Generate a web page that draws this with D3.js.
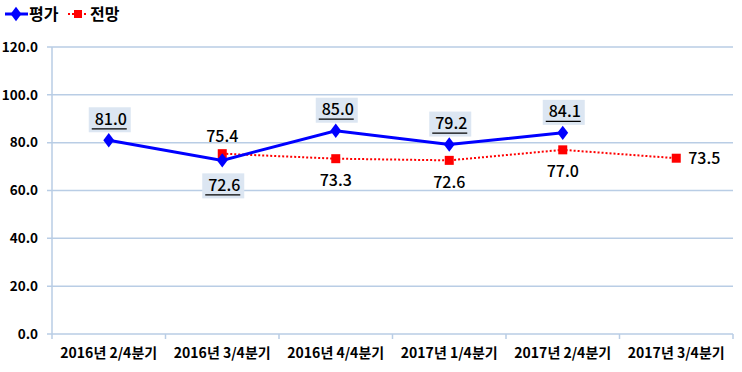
<!DOCTYPE html>
<html>
<head>
    <meta charset="utf-8">
    <script src="https://d3js.org/d3.v7.min.js"></script>
    <style>
        body, html { margin: 0; background: #fff; overflow: hidden; }
        text { font-family: "Noto Sans CJK KR", "Noto Sans", sans-serif; }
    </style>
</head>
<body>
<div id="chart"></div>
<script>
    const categories = ["2016년 2/4분기", "2016년 3/4분기", "2016년 4/4분기", "2017년 1/4분기", "2017년 2/4분기", "2017년 3/4분기"];
    const evalValues = [81.0, 72.6, 85.0, 79.2, 84.1, null];      // 평가
    const outlookValues = [null, 75.4, 73.3, 72.6, 77.0, 73.5];   // 전망
    const evalLabelPos = ["above", "below", "above", "above", "above", null];
    const outlookLabelPos = [null, "above", "below", "below", "below", "right"];
    const yTicks = [0, 20, 40, 60, 80, 100, 120];

    const width = 742, height = 372;
    const margin = {left: 52, right: 9, top: 47, bottom: 38};
    const gridColor = "#b9cde5";

    const svg = d3.select("#chart").append("svg")
        .attr("width", width).attr("height", height);

    const x = d3.scaleBand().domain(categories)
        .range([margin.left, width - margin.right]);
    const y = d3.scaleLinear().domain([0, 120])
        .range([height - margin.bottom, margin.top]);

    // gridlines
    svg.append("g").selectAll("line").data(yTicks).join("line")
        .attr("x1", margin.left - 5).attr("x2", width - margin.right)
        .attr("y1", d => y(d)).attr("y2", d => y(d))
        .attr("stroke", gridColor).attr("stroke-width", 1.5);

    // y axis line
    svg.append("line")
        .attr("x1", margin.left).attr("x2", margin.left)
        .attr("y1", y(120)).attr("y2", y(0))
        .attr("stroke", gridColor).attr("stroke-width", 1.5);

    // y labels
    svg.append("g").selectAll("text").data(yTicks).join("text")
        .attr("x", 38).attr("y", d => y(d))
        .attr("text-anchor", "end").attr("dy", "0.35em")
        .attr("font-size", 13.5).attr("font-weight", "bold")
        .text(d => d.toFixed(1));

    // x tick marks at band edges
    const edges = categories.map(c => x(c)).concat([x.range()[1]]);
    svg.append("g").selectAll("line").data(edges).join("line")
        .attr("x1", d => d).attr("x2", d => d)
        .attr("y1", y(0)).attr("y2", y(0) + 5)
        .attr("stroke", gridColor).attr("stroke-width", 1.5);

    // x labels
    svg.append("g").selectAll("text").data(categories).join("text")
        .attr("x", d => x(d) + x.bandwidth() / 2)
        .attr("y", y(0) + 24)
        .attr("text-anchor", "middle")
        .attr("font-size", 14).attr("font-weight", "bold")
        .text(d => d);

    const cx = i => x(categories[i]) + x.bandwidth() / 2;

    // 전망 series (red dotted)
    const outlookPts = outlookValues.map((v, i) => ({i, v})).filter(d => d.v != null);
    svg.append("path").datum(outlookPts)
        .attr("fill", "none").attr("stroke", "#ff0000")
        .attr("stroke-width", 2).attr("stroke-dasharray", "2,2")
        .attr("d", d3.line().x(d => cx(d.i)).y(d => y(d.v)));
    svg.append("g").selectAll("rect").data(outlookPts).join("rect")
        .attr("x", d => cx(d.i) - 4.5).attr("y", d => y(d.v) - 4.5)
        .attr("width", 9).attr("height", 9).attr("fill", "#ff0000");

    // 평가 series (blue)
    const evalPts = evalValues.map((v, i) => ({i, v})).filter(d => d.v != null);
    svg.append("path").datum(evalPts)
        .attr("fill", "none").attr("stroke", "#0000ff")
        .attr("stroke-width", 3)
        .attr("d", d3.line().x(d => cx(d.i)).y(d => y(d.v)));
    const diamond = d3.symbol().type(d3.symbolDiamond).size(60);
    svg.append("g").selectAll("path").data(evalPts).join("path")
        .attr("transform", d => `translate(${cx(d.i)},${y(d.v)}) scale(1.3,1)`)
        .attr("d", diamond).attr("fill", "#0000ff");

    // 전망 labels
    outlookPts.forEach(d => {
        const pos = outlookLabelPos[d.i];
        let tx = cx(d.i), ty = y(d.v), anchor = "middle";
        if (pos === "above") ty -= 17;
        if (pos === "below") ty += 22;
        if (pos === "right") { tx += 12; anchor = "start"; }
        svg.append("text")
            .attr("x", tx).attr("y", ty).attr("dy", "0.35em")
            .attr("text-anchor", anchor)
            .attr("font-size", 16).attr("font-weight", 500)
            .text(d.v.toFixed(1));
    });

    // 평가 labels (boxed, underlined)
    evalPts.forEach(d => {
        const pos = evalLabelPos[d.i];
        const tx = cx(d.i);
        const ty = pos === "above" ? y(d.v) - 20 : y(d.v) + 26;
        const g = svg.append("g");
        g.append("rect")
            .attr("x", tx - 20).attr("y", ty - 13)
            .attr("width", 42).attr("height", 25)
            .attr("fill", "#dce6f2");
        g.append("text")
            .attr("x", tx + 2).attr("y", ty - 1).attr("dy", "0.35em")
            .attr("text-anchor", "middle")
            .attr("font-size", 16).attr("font-weight", 500)
            .text(d.v.toFixed(1));
        g.append("line")
            .attr("x1", tx - 17).attr("x2", tx + 18)
            .attr("y1", ty + 8.5).attr("y2", ty + 8.5)
            .attr("stroke", "#000").attr("stroke-width", 1.3);
    });

    // legend
    const lg = svg.append("g");
    lg.append("line").attr("x1", 5).attr("x2", 28).attr("y1", 14).attr("y2", 14)
        .attr("stroke", "#0000ff").attr("stroke-width", 3);
    lg.append("path").attr("d", diamond)
        .attr("transform", "translate(16,14) scale(1.3,1)").attr("fill", "#0000ff");
    lg.append("text").attr("x", 29).attr("y", 14).attr("dy", "0.35em")
        .attr("font-size", 16).attr("font-weight", "bold").text("평가");
    lg.append("line").attr("x1", 68).attr("x2", 88).attr("y1", 14).attr("y2", 14)
        .attr("stroke", "#ff0000").attr("stroke-width", 2).attr("stroke-dasharray", "2,2");
    lg.append("rect").attr("x", 74).attr("y", 10).attr("width", 8).attr("height", 8)
        .attr("fill", "#ff0000");
    lg.append("text").attr("x", 90).attr("y", 14).attr("dy", "0.35em")
        .attr("font-size", 16).attr("font-weight", "bold").text("전망");
</script>
</body>
</html>
